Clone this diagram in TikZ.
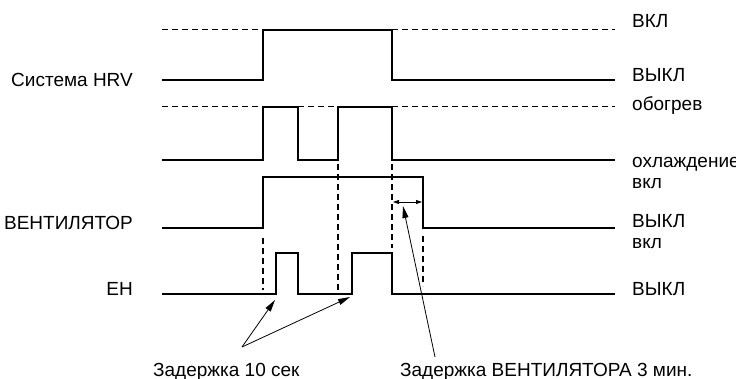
\documentclass[tikz,border=0pt]{standalone}
\usepackage{fontspec}
\setmainfont{Liberation Sans}
\usetikzlibrary{arrows.meta}

\begin{document}
\begin{tikzpicture}[x=1pt, y=-1pt,
    every node/.style={font=\fontsize{19}{22}\selectfont, inner sep=0pt},
    signal/.style={line width=2pt, line join=miter},
    level/.style={line width=1pt, dash pattern=on 6pt off 4pt},
    guide/.style={line width=1.2pt, dash pattern=on 6pt off 4pt},
    signame/.style={anchor=base east},
    state/.style={anchor=base west},
    pointer/.style={line width=0.8pt, -{Triangle[length=12pt,width=6pt]}},
    span/.style={line width=0.8pt, {Triangle[length=6pt,width=4pt]}-{Triangle[length=6pt,width=4pt]}}
]
  \useasboundingbox (0,0) rectangle (736,379);

  % signal names
  \node[signame] (hrv) at (133,87) {Система HRV};
  \node[signame] (fan) at (133,230) {ВЕНТИЛЯТОР};
  \node[signame] (eh) at (133,295) {ЕН};

  % states
  \node[state] (s1) at (632,28) {ВКЛ};
  \node[state] (s2) at (632,82) {ВЫКЛ};
  \node[state] (s3) at (632,111) {обогрев};
  \node[state] (s4) at (632,168) {охлаждение};
  \node[state] (s5) at (632,189) {вкл};
  \node[state] (s6) at (632,228) {ВЫКЛ};
  \node[state] (s7) at (632,249) {вкл};
  \node[state] (s8) at (632,295) {ВЫКЛ};

  % reference levels
  \draw[level] (162,30) -- (263,30);
  \draw[level] (392,30) -- (615,30);
  \draw[level] (162,107) -- (263,107);
  \draw[level] (298,107) -- (338,107);
  \draw[level] (392,107) -- (615,107);

  % waveforms
  \draw[signal] (162,80) -- (263,80) -- (263,30) -- (392,30) -- (392,80) -- (615,80);
  \draw[signal] (162,160) -- (263,160) -- (263,107) -- (298,107) -- (298,160)
    -- (338,160) -- (338,107) -- (392,107) -- (392,160) -- (615,160);
  \draw[signal] (162,228) -- (263,228) -- (263,177) -- (423,177) -- (423,228) -- (615,228);
  \draw[signal] (162,294) -- (276,294) -- (276,253) -- (298,253) -- (298,294)
    -- (352,294) -- (352,253) -- (392,253) -- (392,294) -- (615,294);

  % timing guides
  \draw[guide] (338,164) -- (338,290);
  \draw[guide] (392,164) -- (392,248);
  \draw[guide] (263,238) -- (263,290);
  \draw[guide] (423,236) -- (423,286);

  \coordinate (ga) at (393,202);
  \coordinate (gb) at (422,202);
  \draw[span] (ga) -- (gb);

  % delays
  \node[anchor=base west] (d10) at (153,376) {Задержка 10 сек};
  \node[anchor=base west] (d3) at (400,376) {Задержка ВЕНТИЛЯТОРА 3 мин.};

  \coordinate (p10) at (242,347);
  \coordinate (p3) at (435,357);
  \draw[pointer] (p10) -- (275,300);
  \draw[pointer] (p10) -- (350,297);
  \draw[pointer] (p3) -- (403,206);
\end{tikzpicture}
\end{document}
